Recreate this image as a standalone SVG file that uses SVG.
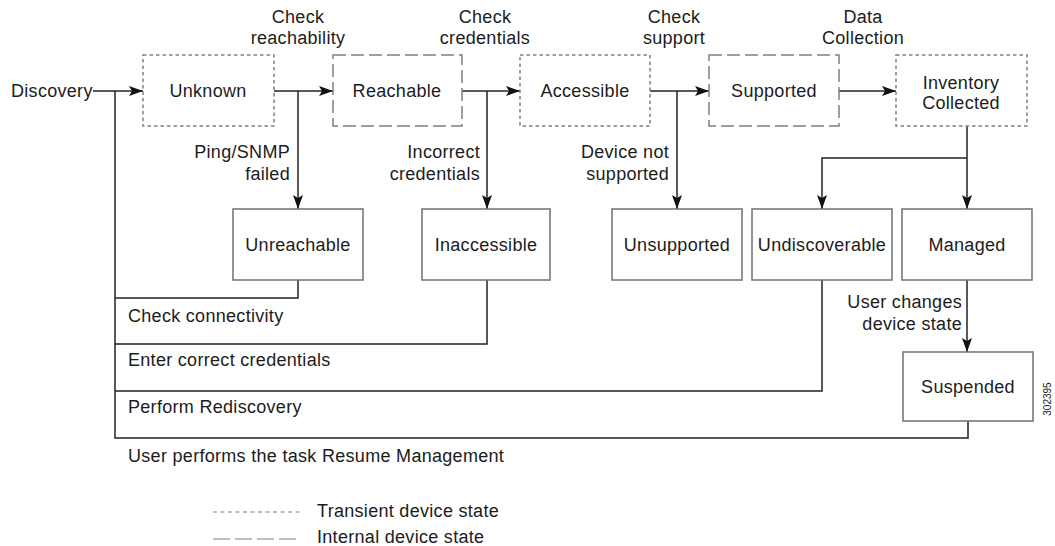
<svg xmlns="http://www.w3.org/2000/svg" width="1055" height="546" viewBox="0 0 1055 546">
<style>
text{font-family:"Liberation Sans",Arial,sans-serif;font-size:18px;fill:#1c1c1c;letter-spacing:0.3px}
.c{text-anchor:middle}
.r{text-anchor:end}
.box{fill:#fff;stroke:#707070;stroke-width:1.5}
.tr{fill:#fff;stroke:#808080;stroke-width:1.5;stroke-dasharray:3.5 3}
.in{fill:#fff;stroke:#808080;stroke-width:1.5;stroke-dasharray:13 5}
.ln{fill:none;stroke:#222;stroke-width:1.5}
.ar{fill:none;stroke:#222;stroke-width:1.5;marker-end:url(#ah)}
.sm{font-size:10px;letter-spacing:0}
</style>
<defs>
<marker id="ah" viewBox="0 0 14 10" refX="14" refY="5" markerWidth="14" markerHeight="10" markerUnits="userSpaceOnUse" orient="auto">
<path d="M0,0 L14,5 L0,10 L3,5 Z" fill="#111"/>
</marker>
</defs>
<rect width="1055" height="546" fill="#fff"/>

<g id="connectors">
<path class="ar" d="M93,91 H143"/>
<path class="ar" d="M274,91 H333"/>
<path class="ar" d="M462,91 H520"/>
<path class="ar" d="M650,91 H709"/>
<path class="ar" d="M839,91 H896"/>
<path class="ar" d="M298,91 V209"/>
<path class="ar" d="M487,91 V209"/>
<path class="ar" d="M677,91 V209"/>
<path class="ar" d="M967,126 V209"/>
<path class="ar" d="M967,158 H822 V209"/>
<path class="ar" d="M967,280 V352"/>
<path class="ln" d="M115,91 V438 H968 V421"/>
<path class="ln" d="M115,298 H298 V280"/>
<path class="ln" d="M115,344 H487 V280"/>
<path class="ln" d="M115,391 H822 V280"/>
</g>

<g id="discovery"><text x="11" y="97">Discovery</text></g>
<g id="unknown"><rect class="tr" x="143" y="55" width="131" height="71"/><text class="c" x="208" y="97">Unknown</text></g>
<g id="reachable"><rect class="in" x="333" y="55" width="129" height="71"/><text class="c" x="397" y="97">Reachable</text></g>
<g id="accessible"><rect class="tr" x="520" y="55" width="130" height="71"/><text class="c" x="585" y="97">Accessible</text></g>
<g id="supported"><rect class="in" x="709" y="55" width="130" height="71"/><text class="c" x="774" y="97">Supported</text></g>
<g id="inventory"><rect class="tr" x="896" y="55" width="131" height="71"/><text class="c" x="961" y="89">Inventory</text><text class="c" x="961" y="109">Collected</text></g>

<g id="unreachable"><rect class="box" x="233" y="209" width="130" height="71"/><text class="c" x="298" y="251">Unreachable</text></g>
<g id="inaccessible"><rect class="box" x="422" y="209" width="128" height="71"/><text class="c" x="486" y="251">Inaccessible</text></g>
<g id="unsupported"><rect class="box" x="612" y="209" width="130" height="71"/><text class="c" x="677" y="251">Unsupported</text></g>
<g id="undiscoverable"><rect class="box" x="752" y="209" width="140" height="71"/><text class="c" x="822" y="251">Undiscoverable</text></g>
<g id="managed"><rect class="box" x="902" y="209" width="130" height="71"/><text class="c" x="967" y="251">Managed</text></g>
<g id="suspended"><rect class="box" x="903" y="352" width="130" height="69"/><text class="c" x="968" y="393">Suspended</text></g>

<g id="labels">
<text class="c" x="298" y="23">Check</text><text class="c" x="298" y="44">reachability</text>
<text class="c" x="485" y="23">Check</text><text class="c" x="485" y="44">credentials</text>
<text class="c" x="674" y="23">Check</text><text class="c" x="674" y="44">support</text>
<text class="c" x="863" y="23">Data</text><text class="c" x="863" y="44">Collection</text>
<text class="r" x="290" y="158">Ping/SNMP</text><text class="r" x="290" y="180">failed</text>
<text class="r" x="480" y="158">Incorrect</text><text class="r" x="480" y="180">credentials</text>
<text class="r" x="669" y="158">Device not</text><text class="r" x="669" y="180">supported</text>
<text class="r" x="962" y="308">User changes</text><text class="r" x="962" y="330">device state</text>
<text x="128" y="322">Check connectivity</text>
<text x="128" y="366">Enter correct credentials</text>
<text x="128" y="413">Perform Rediscovery</text>
<text x="128" y="462">User performs the task Resume Management</text>
<text class="sm c" transform="translate(1051,399) rotate(-90)">302395</text>
</g>

<g id="legend">
<line x1="213" y1="512" x2="300" y2="512" stroke="#808080" stroke-width="1.2" stroke-dasharray="4 3.5"/>
<text x="317" y="517">Transient device state</text>
<line x1="213" y1="539" x2="300" y2="539" stroke="#808080" stroke-width="1.2" stroke-dasharray="17 5"/>
<text x="317" y="543">Internal device state</text>
</g>
</svg>
